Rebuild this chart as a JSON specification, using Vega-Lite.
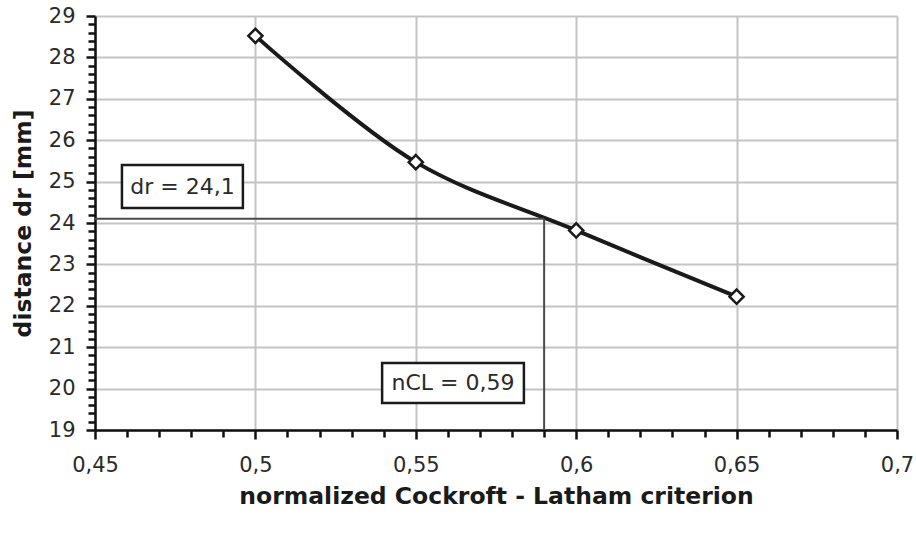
{
  "$schema": "https://vega.github.io/schema/vega-lite/v6.json",
  "autosize": {"type": "none"},
  "width": 802,
  "height": 414,
  "padding": {"left": 95, "top": 16, "right": 19, "bottom": 103},
  "background": "white",
  "config": {
    "view": {"stroke": null},
    "font": "DejaVu Sans",
    "axis": {
      "labelFont": "DejaVu Sans",
      "labelFontSize": 21,
      "labelColor": "#2a2a2a",
      "titleFont": "DejaVu Sans",
      "titleFontSize": 23.5,
      "titleFontWeight": "bold",
      "titleColor": "#1a1a1a",
      "domainColor": "#111111",
      "domainWidth": 2.5,
      "tickColor": "#111111",
      "tickWidth": 2.5,
      "gridColor": "#c4c4c4",
      "gridWidth": 2
    }
  },
  "datasets": {
    "series": [
      {"ncl": 0.5, "dr": 28.52},
      {"ncl": 0.55, "dr": 25.47},
      {"ncl": 0.6, "dr": 23.82},
      {"ncl": 0.65, "dr": 22.22}
    ],
    "hline": [{"x1": 0.45, "x2": 0.59, "y1": 24.1}],
    "vline": [{"x1": 0.59, "y1": 19, "y2": 24.1}],
    "boxes": [
      {"label": "dr = 24,1", "xa": 0.4584, "xb": 0.4961, "ya": 24.36, "yb": 25.4},
      {"label": "nCL = 0,59", "xa": 0.5395, "xb": 0.5837, "ya": 19.65, "yb": 20.62}
    ]
  },
  "layer": [
    {
      "data": {"name": "series"},
      "mark": {"type": "line", "color": "#1a1a1a", "strokeWidth": 4, "interpolate": "catmull-rom"},
      "encoding": {
        "x": {
          "field": "ncl", "type": "quantitative",
          "scale": {"domain": [0.45, 0.7], "nice": false, "zero": false},
          "axis": {
            "title": "normalized Cockroft - Latham criterion",
            "titlePadding": 9,
            "tickCount": 200,
            "values": [0.45,0.46,0.47,0.48,0.49,0.5,0.51,0.52,0.53,0.54,0.55,0.56,0.57,0.58,0.59,0.6,0.61,0.62,0.63,0.64,0.65,0.66,0.67,0.68,0.69,0.7],
            "labelExpr": "abs(round(datum.value*100) % 5) == 0 ? replace(format(datum.value, '.2~f'), '.', ',') : ''",
            "labelPadding": 15,
            "labelFlush": false,
            "labelOverlap": false,
            "tickSize": {"condition": {"test": "abs(round(datum.value*100) % 5) == 0", "value": 9}, "value": 7},
            "gridOpacity": {"condition": {"test": "abs(round(datum.value*100) % 5) == 0", "value": 1}, "value": 0}
          }
        },
        "y": {
          "field": "dr", "type": "quantitative",
          "scale": {"domain": [19, 29], "nice": false, "zero": false},
          "axis": {
            "title": "distance dr [mm]",
            "titlePadding": 13,
            "tickCount": 200,
            "values": [19,19.2,19.4,19.6,19.8,20,20.2,20.4,20.6,20.8,21,21.2,21.4,21.6,21.8,22,22.2,22.4,22.6,22.8,23,23.2,23.4,23.6,23.8,24,24.2,24.4,24.6,24.8,25,25.2,25.4,25.6,25.8,26,26.2,26.4,26.6,26.8,27,27.2,27.4,27.6,27.8,28,28.2,28.4,28.6,28.8,29],
            "labelExpr": "abs(datum.value - round(datum.value)) < 0.01 ? format(datum.value, 'd') : ''",
            "labelPadding": 11,
            "labelFlush": false,
            "labelOverlap": false,
            "tickSize": {"condition": {"test": "abs(datum.value - round(datum.value)) < 0.01", "value": 9}, "value": 7},
            "gridOpacity": {"condition": {"test": "abs(datum.value - round(datum.value)) < 0.01", "value": 1}, "value": 0}
          }
        }
      }
    },
    {
      "data": {"name": "hline"},
      "mark": {"type": "rule", "color": "#4a4a4a", "strokeWidth": 2},
      "encoding": {
        "x": {"field": "x1", "type": "quantitative"},
        "x2": {"field": "x2"},
        "y": {"field": "y1", "type": "quantitative"}
      }
    },
    {
      "data": {"name": "vline"},
      "mark": {"type": "rule", "color": "#4a4a4a", "strokeWidth": 2},
      "encoding": {
        "x": {"field": "x1", "type": "quantitative"},
        "y": {"field": "y1", "type": "quantitative"},
        "y2": {"field": "y2"}
      }
    },
    {
      "data": {"name": "series"},
      "mark": {"type": "point", "shape": "diamond", "filled": true, "fill": "white", "stroke": "#1a1a1a", "strokeWidth": 2.5, "size": 200, "opacity": 1},
      "encoding": {
        "x": {"field": "ncl", "type": "quantitative"},
        "y": {"field": "dr", "type": "quantitative"}
      }
    },
    {
      "data": {"name": "boxes"},
      "mark": {"type": "rect", "fill": "white", "stroke": "#1a1a1a", "strokeWidth": 2.5},
      "encoding": {
        "x": {"field": "xa", "type": "quantitative"},
        "x2": {"field": "xb"},
        "y": {"field": "ya", "type": "quantitative"},
        "y2": {"field": "yb"}
      }
    },
    {
      "data": {"name": "boxes"},
      "transform": [
        {"calculate": "(datum.xa + datum.xb) / 2", "as": "xc"},
        {"calculate": "(datum.ya + datum.yb) / 2", "as": "yc"}
      ],
      "mark": {"type": "text", "font": "DejaVu Sans", "fontSize": 22, "color": "#2a2a2a", "align": "center", "baseline": "middle"},
      "encoding": {
        "x": {"field": "xc", "type": "quantitative"},
        "y": {"field": "yc", "type": "quantitative"},
        "text": {"field": "label"}
      }
    }
  ]
}
